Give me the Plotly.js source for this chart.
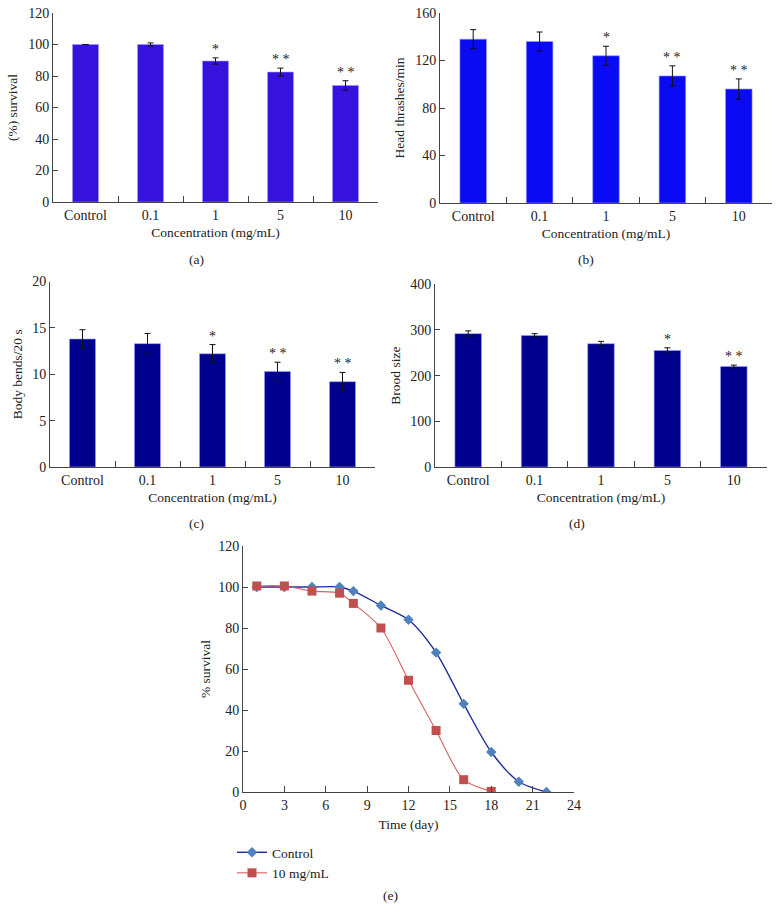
<!DOCTYPE html>
<html>
<head>
<meta charset="utf-8">
<script src="https://cdn.plot.ly/plotly-3.0.1.min.js"></script>
<style>html,body{margin:0;padding:0;background:#fff;}#chart{width:779px;height:921px;}</style>
</head>
<body>
<div id="chart"></div>
<script>
// ---- data ----
const categories = ["Control", "0.1", "1", "5", "10"];

const survivalVals = [100, 100, 89.5, 82.5, 74];
const survivalErr  = [0, 1, 2, 2.5, 3];
const survivalSig  = ["", "", "*", "* *", "* *"];

const thrashVals = [138, 136, 124, 107, 96];
const thrashErr  = [8, 8, 8, 8.5, 8.5];
const thrashSig  = ["", "", "*", "* *", "* *"];

const bendVals = [13.8, 13.3, 12.2, 10.3, 9.2];
const bendErr  = [1.0, 1.1, 1.0, 1.0, 1.0];
const bendSig  = ["", "", "*", "* *", "* *"];

const broodVals = [292, 288, 270, 255, 220];
const broodErr  = [6, 4, 5, 6, 3];
const broodSig  = ["", "", "", "*", "* *"];

const lifeDaysControl = [1, 3, 5, 7, 8, 10, 12, 14, 16, 18, 20, 22];
const lifeControl     = [100, 100, 100, 100, 98, 91, 84, 68, 43, 19.5, 5, 0];
const lifeDaysTreated = [1, 3, 5, 7, 8, 10, 12, 14, 16, 18];
const lifeTreated     = [100.5, 100.5, 98, 97, 92, 80, 54.5, 30, 6, 0.3];

// ---- styling helpers ----
const FAM = "Liberation Serif, Times New Roman, serif";
const TICKF = {family: FAM, size: 14, color: "#222"};
const TITF = {family: FAM, size: 13.5, color: "#222"};
const W = 779, H = 921;
const px = v => v / W;
const py = v => 1 - v / H;

function catAxis(x0, x1, yAnchor) {
  return {
    domain: [px(x0), px(x1)], anchor: yAnchor, type: "category",
    range: [-0.5, 4.5], showline: true, linecolor: "#444", linewidth: 1,
    ticks: "inside", ticklen: 6, tickcolor: "#444", tickson: "boundaries",
    showgrid: false, zeroline: false, tickfont: TICKF,
    title: {text: "Concentration (mg/mL)", font: TITF, standoff: 5}, fixedrange: true
  };
}
function valAxis(yTop, yBot, xAnchor, max, dtick, title, standoff) {
  return {
    domain: [py(yBot), py(yTop)], anchor: xAnchor, range: [0, max], dtick: dtick,
    showline: true, linecolor: "#444", linewidth: 1, ticks: "inside", ticklen: 5,
    tickcolor: "#444", showgrid: false, zeroline: false, tickfont: TICKF,
    title: {text: title, font: TITF, standoff: standoff}, fixedrange: true
  };
}
function barTrace(vals, err, color, xa, ya) {
  return {
    type: "bar", x: categories, y: vals, xaxis: xa, yaxis: ya, width: 0.4,
    marker: {color: color, line: {color: "#9a9aff", width: 0.6}},
    error_y: {type: "data", array: err, visible: true, color: "#111", thickness: 1, width: 3},
    showlegend: false, hoverinfo: "skip"
  };
}
function sigAnn(vals, err, sig, xref, yref) {
  return categories.map((c, i) => ({
    x: i, y: vals[i] + err[i], xref: xref, yref: yref, text: sig[i],
    showarrow: false, font: {family: FAM, size: 14, color: "#222"},
    yanchor: "bottom", xanchor: "center", yshift: -1
  })).filter(a => a.text);
}
function label(t, x, y) {
  return {text: t, x: px(x), y: py(y), xref: "paper", yref: "paper", showarrow: false,
          xanchor: "center", yanchor: "middle", font: TITF};
}

const traces = [
  barTrace(survivalVals, survivalErr, "#3612DC", "x", "y"),
  barTrace(thrashVals, thrashErr, "#0A0AF5", "x2", "y2"),
  barTrace(bendVals, bendErr, "#00008E", "x3", "y3"),
  barTrace(broodVals, broodErr, "#00008E", "x4", "y4"),
  {
    type: "scatter", mode: "lines+markers", name: "Control",
    x: lifeDaysControl, y: lifeControl, xaxis: "x5", yaxis: "y5",
    line: {color: "#1E2A9C", width: 1.4, shape: "spline", smoothing: 0.8},
    marker: {symbol: "diamond", size: 8, color: "#4F81BD"}
  },
  {
    type: "scatter", mode: "lines+markers", name: "10 mg/mL",
    x: lifeDaysTreated, y: lifeTreated, xaxis: "x5", yaxis: "y5",
    line: {color: "#D96060", width: 1.1, shape: "spline", smoothing: 0.8},
    marker: {symbol: "square", size: 9, color: "#C0504D"}
  }
];

const layout = {
  width: W, height: H, margin: {l: 0, r: 0, t: 0, b: 0},
  paper_bgcolor: "#fff", plot_bgcolor: "#fff", font: TICKF,
  xaxis:  catAxis(53, 378, "y"),
  yaxis:  valAxis(13, 202, "x", 120, 20, "(%) survival", 7),
  xaxis2: catAxis(440, 772, "y2"),
  yaxis2: valAxis(13, 203, "x2", 160, 40, "Head thrashes/min", 7),
  xaxis3: catAxis(50, 375, "y3"),
  yaxis3: valAxis(281.5, 467, "x3", 20, 5, "Body bends/20 s", 6),
  xaxis4: catAxis(435, 767, "y4"),
  yaxis4: valAxis(284.3, 467, "x4", 400, 100, "Brood size", 6),
  xaxis5: {
    domain: [px(243), px(574)], anchor: "y5", range: [0, 24], dtick: 3,
    showline: true, linecolor: "#444", linewidth: 1, ticks: "inside", ticklen: 6,
    tickcolor: "#444", showgrid: false, zeroline: false, tickfont: TICKF,
    title: {text: "Time (day)", font: TITF, standoff: 7}, fixedrange: true
  },
  yaxis5: {
    domain: [py(792), py(546)], anchor: "x5", range: [0, 120], dtick: 20,
    showline: true, linecolor: "#444", linewidth: 1, ticks: "inside", ticklen: 5,
    tickcolor: "#444", showgrid: false, zeroline: false, tickfont: TICKF,
    title: {text: "% survival", font: TITF, standoff: 4}, fixedrange: true
  },
  showlegend: true,
  legend: {x: px(232), y: py(837), xanchor: "left", yanchor: "top", font: TITF,
           bgcolor: "rgba(0,0,0,0)", tracegroupgap: 0, itemwidth: 30},
  annotations: [].concat(
    sigAnn(survivalVals, survivalErr, survivalSig, "x", "y"),
    sigAnn(thrashVals, thrashErr, thrashSig, "x2", "y2"),
    sigAnn(bendVals, bendErr, bendSig, "x3", "y3"),
    sigAnn(broodVals, broodErr, broodSig, "x4", "y4"),
    [
      label("(a)", 197, 259),
      label("(b)", 586, 259),
      label("(c)", 196, 523),
      label("(d)", 577, 523),
      label("(e)", 390, 895)
    ]
  )
};

Plotly.newPlot("chart", traces, layout, {displayModeBar: false, staticPlot: true});
</script>
</body>
</html>
